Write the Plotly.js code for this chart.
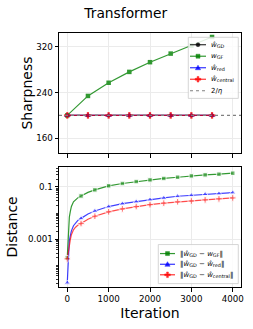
<!DOCTYPE html>
<html>
<head>
<meta charset="utf-8">
<script src="https://cdn.plot.ly/plotly-3.0.1.min.js"></script>
<style>html,body{margin:0;padding:0;background:#fff;}#chart{width:253px;height:329px;}</style>
</head>
<body>
<div id="chart"></div>
<script>
// ---- data (top: sharpness) ----
const iterTop = [0, 500, 1000, 1500, 2000, 2500, 3000, 3500];
const sharpGD = [200, 200, 200, 200, 200, 200, 200, 200];
const sharpGF = [200, 234, 257, 276, 293, 308, 322, 337];
const sharpRed = [200, 200, 200, 200, 200, 200, 200, 200];
const sharpCentral = [200, 200, 200, 200, 200, 200, 200, 200];
const twoOverEta = 200;

// ---- data (bottom: distance) ----
const iterBottom = [0, 25, 50, 75, 100, 150, 200, 260, 333, 500, 667, 833, 1000, 1333, 1667, 2000, 2333, 2667, 3000, 3333, 3667, 4000];
const markerIters = [0, 333, 667, 1000, 1333, 1667, 2000, 2333, 2667, 3000, 3333, 3667, 4000];
const distGF = [2.0e-4, 0.003, 0.007, 0.012, 0.018, 0.027, 0.033, 0.039, 0.045, 0.062, 0.077, 0.094, 0.11, 0.135, 0.16, 0.185, 0.21, 0.234, 0.263, 0.288, 0.305, 0.333];
const distRed = [2.2e-5, 4.0e-4, 9.0e-4, 0.0014, 0.0021, 0.0033, 0.0043, 0.0054, 0.0063, 0.0093, 0.0121, 0.015, 0.0178, 0.023, 0.0276, 0.033, 0.038, 0.044, 0.048, 0.053, 0.056, 0.061];
const distCentral = [1.8e-4, 3.8e-4, 6.5e-4, 0.001, 0.0015, 0.0023, 0.0029, 0.0035, 0.004, 0.0058, 0.0076, 0.0094, 0.0112, 0.0145, 0.0178, 0.021, 0.024, 0.027, 0.029, 0.032, 0.035, 0.038];

// tick labels
const xTicks = [0, 1000, 2000, 3000, 4000];
const ySharpTicks = [160, 240, 320];
const yDistTicks = [0.001, 0.1];
const yDistTickText = ['0.001', '0.1'];

const xRange = [-200, 4200];

// legend labels
const topLabels = ['<i>ŵ</i><sub>GD</sub>', '<i>w</i><sub>GF</sub>', '<i>ŵ</i><sub>red</sub>', '<i>ŵ</i><sub>central</sub>', '2/<i>η</i>'];
const bottomLabels = ['‖<i>ŵ</i><sub>GD</sub> − <i>w</i><sub>GF</sub>‖', '‖<i>ŵ</i><sub>GD</sub> − <i>ŵ</i><sub>red</sub>‖', '‖<i>ŵ</i><sub>GD</sub> − <i>ŵ</i><sub>central</sub>‖'];

// ---- styling ----
const FONT = 'DejaVu Sans, Liberation Sans, sans-serif';
const cK = '#000000', cG = '#008000', cB = '#0000ff', cR = '#ff0000';
const W = 253, H = 329;
const M = {l: 59, r: 12, t: 33, b: 42.3};
const PW = W - M.l - M.r, PH = H - M.t - M.b;
const px2x = p => (p - M.l) / PW;
const py2y = p => (H - M.b - p) / PH;

const mSize = iterBottom.map(v => markerIters.includes(v) ? 4.5 : 0);
const mSizeTri = iterBottom.map(v => markerIters.includes(v) ? 5.5 : 0);

const traces = [
  {x: iterTop, y: sharpGD, xaxis: 'x', yaxis: 'y', mode: 'lines+markers', line: {color: cK, width: 1.2}, marker: {symbol: 'circle', size: 4, color: cK}, opacity: 0.8, name: 'GD'},
  {x: iterTop, y: sharpGF, xaxis: 'x', yaxis: 'y', mode: 'lines+markers', line: {color: cG, width: 1.2}, marker: {symbol: 'square', size: 4.5, color: cG}, opacity: 0.8, name: 'GF'},
  {x: iterTop, y: sharpRed, xaxis: 'x', yaxis: 'y', mode: 'lines+markers', line: {color: cB, width: 1.2}, marker: {symbol: 'triangle-up', size: 5.5, color: cB}, opacity: 0.75, name: 'red'},
  {x: iterTop, y: sharpCentral, xaxis: 'x', yaxis: 'y', mode: 'lines+markers', line: {color: cR, width: 1.2}, marker: {symbol: 'cross', size: 5.5, color: cR}, opacity: 0.7, name: 'central'},
  {x: xRange, y: xRange.map(() => twoOverEta), xaxis: 'x', yaxis: 'y', mode: 'lines', line: {color: '#808080', width: 1.3, dash: 'dot'}, name: '2/eta'},
  {x: iterBottom, y: distGF, xaxis: 'x2', yaxis: 'y2', mode: 'lines+markers', line: {color: cG, width: 1.2}, marker: {symbol: 'square', size: mSize, color: cG}, opacity: 0.8, name: 'dGF'},
  {x: iterBottom, y: distRed, xaxis: 'x2', yaxis: 'y2', mode: 'lines+markers', line: {color: cB, width: 1.2}, marker: {symbol: 'triangle-up', size: mSizeTri, color: cB}, opacity: 0.75, name: 'dRed'},
  {x: iterBottom, y: distCentral, xaxis: 'x2', yaxis: 'y2', mode: 'lines+markers', line: {color: cR, width: 1.2}, marker: {symbol: 'cross', size: mSizeTri, color: cR}, opacity: 0.7, name: 'dCentral'}
];

const axBase = {
  showline: true, mirror: true, linecolor: '#000', linewidth: 1,
  ticks: 'outside', ticklen: 3.5, tickwidth: 1, tickcolor: '#000',
  showgrid: true, gridcolor: '#ebebeb', gridwidth: 1, zeroline: false,
  tickfont: {family: FONT, size: 8.7, color: '#000'}, automargin: false
};

// ---- custom legends (shapes + text) ----
const shapes = [];
const annotations = [];
function legendBox(x0, x1, y0, y1) {
  shapes.push({type: 'rect', xref: 'paper', yref: 'paper', x0: px2x(x0), x1: px2x(x1), y0: py2y(y1), y1: py2y(y0),
    line: {color: '#cccccc', width: 0.8}, fillcolor: 'rgba(255,255,255,0.85)', layer: 'above'});
}
function legendLine(x0, x1, yc, color, dash, op) {
  shapes.push({type: 'line', xref: 'paper', yref: 'paper', x0: px2x(x0), x1: px2x(x1), y0: py2y(yc), y1: py2y(yc),
    line: {color: color, width: 1.2, dash: dash || 'solid'}, opacity: op || 0.8, layer: 'above'});
}
function legendMarker(xc, yc, kind, color) {
  const base = {xref: 'paper', yref: 'paper', xsizemode: 'pixel', ysizemode: 'pixel', xanchor: px2x(xc), yanchor: py2y(yc),
    fillcolor: color, line: {color: color, width: 0.5}, opacity: 0.85, layer: 'above'};
  if (kind === 'circle') shapes.push(Object.assign({type: 'circle', x0: -2, x1: 2, y0: -2, y1: 2}, base));
  else if (kind === 'square') shapes.push(Object.assign({type: 'rect', x0: -2, x1: 2, y0: -2, y1: 2}, base));
  else if (kind === 'tri') shapes.push(Object.assign({type: 'path', path: 'M-2.6,-2 L2.6,-2 L0,2.6 Z'}, base));
  else if (kind === 'cross') shapes.push(Object.assign({type: 'path', path: 'M-0.9,-2.8 L0.9,-2.8 L0.9,-0.9 L2.8,-0.9 L2.8,0.9 L0.9,0.9 L0.9,2.8 L-0.9,2.8 L-0.9,0.9 L-2.8,0.9 L-2.8,-0.9 L-0.9,-0.9 Z'}, base));
}
function legendText(x, yc, txt) {
  annotations.push({xref: 'paper', yref: 'paper', x: px2x(x), y: py2y(yc), xanchor: 'left', yanchor: 'middle',
    text: txt, showarrow: false, font: {family: FONT, size: 7, color: '#000'}});
}

// top legend
legendBox(188.3, 238.3, 37.3, 98.3);
const topRows = [44.7, 56.2, 67.7, 79.2, 90.7];
const topCols = [cK, cG, cB, cR];
const topKinds = ['circle', 'square', 'tri', 'cross'];
for (let i = 0; i < 4; i++) {
  legendLine(190, 206, topRows[i], topCols[i]);
  legendMarker(198, topRows[i], topKinds[i], topCols[i]);
}
legendLine(190, 206, topRows[4], '#808080', 'dot', 1);
topLabels.forEach((t, i) => legendText(208.5, topRows[i], t));

// bottom legend
legendBox(158.3, 238.3, 244.3, 283.3);
const botRows = [253.3, 264, 274.5];
const botCols = [cG, cB, cR];
const botKinds = ['square', 'tri', 'cross'];
for (let i = 0; i < 3; i++) {
  legendLine(160, 175, botRows[i], botCols[i]);
  legendMarker(167.5, botRows[i], botKinds[i], botCols[i]);
}
bottomLabels.forEach((t, i) => legendText(177.5, botRows[i], t));

const layout = {
  width: W, height: H,
  margin: M,
  paper_bgcolor: '#fff', plot_bgcolor: '#fff',
  showlegend: false,
  font: {family: FONT, color: '#000'},
  title: {text: 'Transformer', font: {family: FONT, size: 13.8, color: '#000'}, xref: 'container', x: 0.497, yref: 'container', y: 1 - 13.5 / H, yanchor: 'middle', xanchor: 'center'},
  xaxis: Object.assign({}, axBase, {domain: [0, 1], anchor: 'y', range: xRange, tickmode: 'array', tickvals: xTicks, showticklabels: false}),
  yaxis: Object.assign({}, axBase, {domain: [(H - M.b - 153) / PH, 1], anchor: 'x', range: [134, 344], tickmode: 'array', tickvals: ySharpTicks,
    title: {text: 'Sharpness', font: {family: FONT, size: 14, color: '#000'}, standoff: 0}}),
  xaxis2: Object.assign({}, axBase, {domain: [0, 1], anchor: 'y2', range: xRange, tickmode: 'array', tickvals: xTicks,
    title: {text: 'Iteration', font: {family: FONT, size: 14, color: '#000'}, standoff: 5}}),
  yaxis2: Object.assign({}, axBase, {domain: [0, (H - M.b - 166.7) / PH], anchor: 'x2', type: 'log', range: [-4.82, -0.235], tickmode: 'array', tickvals: yDistTicks, ticktext: yDistTickText,
    minor: {tickmode: 'linear', dtick: 'D1', ticks: 'outside', ticklen: 2, tickcolor: '#000', tickwidth: 0.8, showgrid: false},
    title: {text: 'Distance', font: {family: FONT, size: 14, color: '#000'}, standoff: 6}}),
  shapes: shapes,
  annotations: annotations
};

Plotly.newPlot('chart', traces, layout, {displayModeBar: false, staticPlot: true});
</script>
</body>
</html>
